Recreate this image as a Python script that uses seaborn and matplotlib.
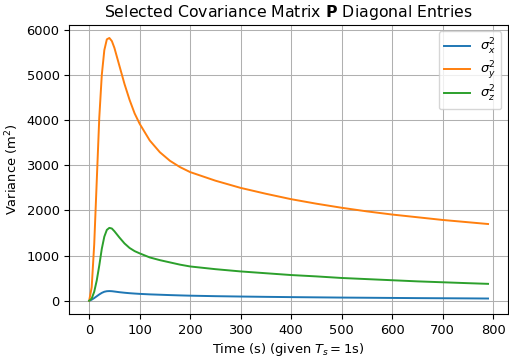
import matplotlib
matplotlib.use("Agg")
import matplotlib.pyplot as plt
import numpy as np
import pandas as pd
import seaborn as sns

# time samples (s) and read-off variances (m^2)
time = [0, 5, 10, 15, 20, 25, 30, 35, 40, 45, 50, 60, 70, 80, 90, 100,
        120, 140, 160, 180, 200, 250, 300, 350, 400, 450, 500, 550,
        600, 650, 700, 750, 790]
var_x = [0, 25, 60, 100, 140, 175, 200, 212, 215, 212, 205, 190, 178, 168, 160, 153,
         142, 134, 126, 119, 113, 102, 94, 87, 81, 76, 71, 67,
         63, 59, 56, 53, 50]
var_y = [0, 300, 1250, 2650, 4050, 5000, 5550, 5790, 5820, 5750, 5600, 5200, 4800, 4450, 4150, 3920,
         3550, 3290, 3100, 2960, 2850, 2660, 2500, 2370, 2250, 2150, 2060, 1980,
         1910, 1850, 1790, 1740, 1700]
var_z = [0, 50, 200, 450, 780, 1150, 1420, 1570, 1615, 1600, 1540, 1400, 1270, 1170, 1100, 1050,
         960, 900, 850, 800, 760, 700, 650, 610, 570, 540, 505, 480,
         455, 430, 410, 390, 375]
labels = [r"$\sigma_x^2$", r"$\sigma_y^2$", r"$\sigma_z^2$"]

df = pd.concat([
    pd.DataFrame({"t": time, "v": vals, "s": lab})
    for vals, lab in zip([var_x, var_y, var_z], labels)
])

plt.rcParams["font.family"] = "DejaVu Sans"
fig, ax = plt.subplots(figsize=(5.09, 3.6), dpi=100)
fig.subplots_adjust(left=0.136, right=0.998, top=0.931, bottom=0.128)

sns.lineplot(data=df, x="t", y="v", hue="s", palette=["#1f77b4", "#ff7f0e", "#2ca02c"],
             linewidth=1.4, ax=ax)
ax.grid(True, color="#b0b0b0", linewidth=0.75)
ax.set_xticks(range(0, 801, 100))
ax.set_yticks(range(0, 6001, 1000))
ax.tick_params(labelsize=9.4)
ax.set_xlabel(r"Time (s) (given $T_s = 1$s)", fontsize=9.4, labelpad=3)
ax.set_ylabel(r"Variance (m$^2$)", fontsize=9.4)
ax.set_title(r"Selected Covariance Matrix $\mathbf{P}$ Diagonal Entries", fontsize=11.3)
ax.legend(title=None, loc="upper right", fontsize=9.4, labelspacing=0.2)

fig.savefig("out.png")
